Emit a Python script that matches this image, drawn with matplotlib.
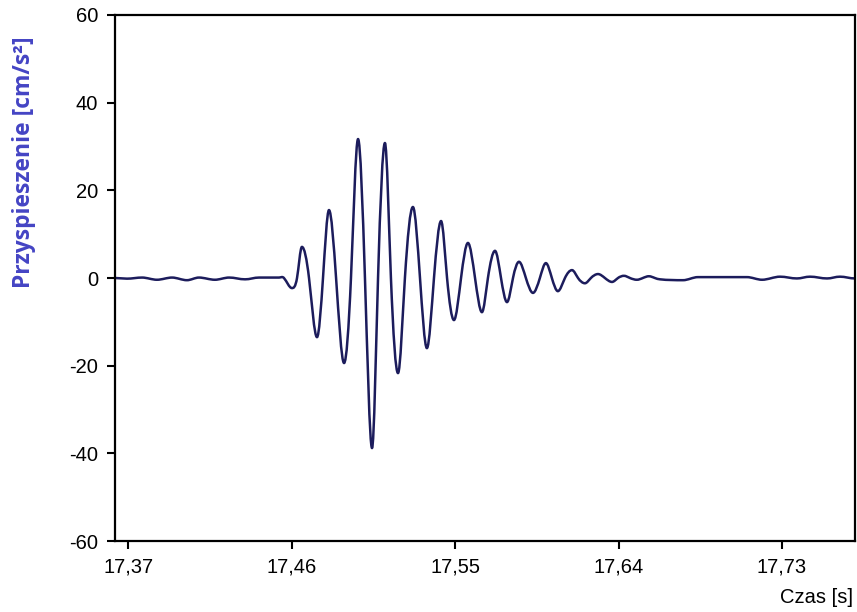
import matplotlib.pyplot as plt
from matplotlib.path import Path
from matplotlib.patches import PathPatch
import numpy as np

# time [s] and acceleration [cm/s^2]
czas = [17.3628, 17.3694, 17.3777, 17.3859, 17.3942, 17.4024, 17.4090, 17.4178,
        17.4256, 17.4344, 17.4421, 17.4531, 17.4558, 17.4602, 17.4630, 17.4657,
        17.4696, 17.4740, 17.4773, 17.4806, 17.4845, 17.4889, 17.4927, 17.4966,
        17.5004, 17.5043, 17.5076, 17.5114, 17.5147, 17.5186, 17.5224, 17.5268,
        17.5307, 17.5345, 17.5384, 17.5423, 17.5456, 17.5494, 17.5533, 17.5571,
        17.5610, 17.5648, 17.5681, 17.5720, 17.5753, 17.5786, 17.5819, 17.5852,
        17.5890, 17.5929, 17.5967, 17.6000, 17.6033, 17.6066, 17.6105, 17.6144,
        17.6177, 17.6215, 17.6248, 17.6287, 17.6325, 17.6364, 17.6397, 17.6430,
        17.6463, 17.6501, 17.6534, 17.6567, 17.6600, 17.6628, 17.6755, 17.6837,
        17.6975, 17.7107, 17.7190, 17.7289, 17.7382, 17.7454, 17.7548, 17.7619,
        17.7702]
przysp = [0.0, -0.15, 0.1, -0.4, 0.1, -0.5, 0.1, -0.4,
          0.1, -0.3, 0.1, 0.1, 0.0, -2.3, 0.0, 7.1,
          0.0, -13.5, 0.0, 15.5, 0.0, -19.4, 0.0, 31.7,
          0.0, -38.8, 0.0, 30.8, 0.0, -21.7, 0.0, 16.2,
          0.0, -16.0, 0.0, 13.0, 0.0, -9.6, 0.0, 8.0,
          0.0, -7.8, 0.0, 6.2, 0.0, -5.5, 0.0, 3.7,
          0.0, -3.4, 0.0, 3.4, 0.0, -3.0, 0.0, 1.8,
          0.0, -1.2, 0.0, 0.9, 0.0, -0.9, 0.0, 0.5,
          0.0, -0.4, 0.0, 0.4, 0.0, -0.3, -0.5, 0.2,
          0.2, 0.2, -0.4, 0.3, -0.1, 0.3, -0.1, 0.3,
          -0.1]

xticks = [17.37, 17.46, 17.55, 17.64, 17.73]
xticklabels = ['17,37', '17,46', '17,55', '17,64', '17,73']
yticks = [-60, -40, -20, 0, 20, 40, 60]

plt.rcParams['font.family'] = ['Liberation Sans', 'DejaVu Sans']
plt.rcParams['axes.unicode_minus'] = False


def smooth_path(x, y):
    # cubic Bezier segments through the read points, flat at the extrema
    x = np.asarray(x)
    y = np.asarray(y)
    n = len(x)
    m = np.zeros(n)
    for i in range(1, n - 1):
        if (y[i] - y[i - 1]) * (y[i + 1] - y[i]) > 0:
            m[i] = 1.4 * (y[i + 1] - y[i - 1]) / (x[i + 1] - x[i - 1])
    verts = [(x[0], y[0])]
    codes = [Path.MOVETO]
    for i in range(n - 1):
        h = x[i + 1] - x[i]
        verts += [(x[i] + h / 3, y[i] + m[i] * h / 3),
                  (x[i + 1] - h / 3, y[i + 1] - m[i + 1] * h / 3),
                  (x[i + 1], y[i + 1])]
        codes += [Path.CURVE4] * 3
    return Path(verts, codes)


fig = plt.figure(figsize=(8.57, 6.12), dpi=100)
ax = fig.add_axes([0.1342, 0.116, 0.8635, 0.8595])

ax.add_patch(PathPatch(smooth_path(czas, przysp), facecolor='none',
                       edgecolor='#1c1c5c', linewidth=1.8, joinstyle='round'))

ax.set_xlim(17.3628, 17.7702)
ax.set_ylim(-60, 60)
ax.set_xticks(xticks)
ax.set_xticklabels(xticklabels)
ax.set_yticks(yticks)
ax.tick_params(direction='out', length=6, width=1.5, labelsize=14.5, colors='black', pad=6)

for s in ax.spines.values():
    s.set_linewidth(1.6)
    s.set_color('black')

fig.text(0.995, 0.008, 'Czas [s]', ha='right', va='bottom', fontsize=14.5)
fig.text(0.028, 0.735, 'Przyspieszenie [cm/s²]', rotation=90, ha='center', va='center',
         fontsize=16.5, fontweight='bold', color='#4444c4', family=['Open Sans', 'DejaVu Sans'])

plt.savefig('out.png', dpi=100)
